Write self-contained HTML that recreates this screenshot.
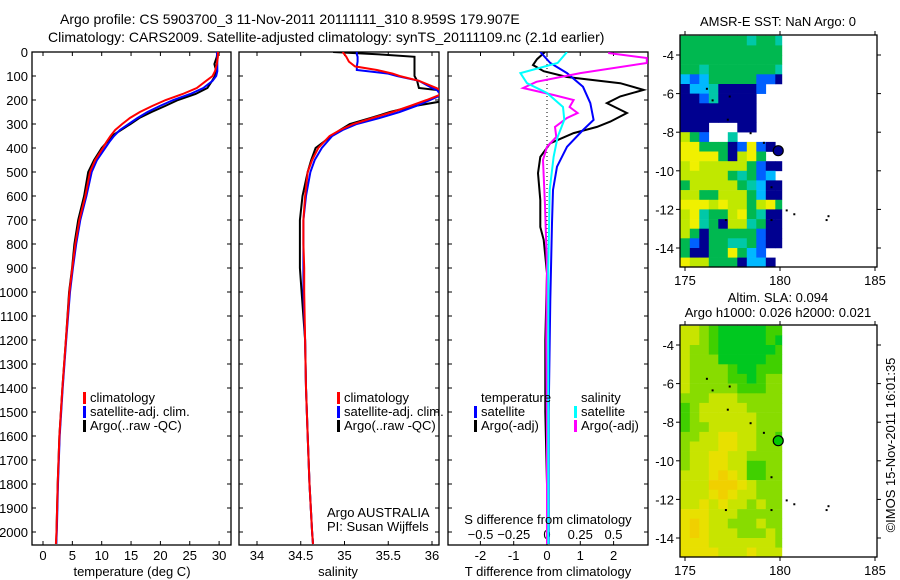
<!DOCTYPE html>
<html><head><meta charset="utf-8"><style>
body{margin:0;background:#fff;}
svg{display:block;font-family:"Liberation Sans",sans-serif;}
text{font-size:13px;fill:#000;}
</style></head><body>
<svg id="s" width="900" height="580" viewBox="0 0 900 580" xmlns="http://www.w3.org/2000/svg">
<defs>
<clipPath id="c1"><rect x="32" y="52" width="199" height="493"/></clipPath>
<clipPath id="c2"><rect x="239" y="52" width="200" height="493"/></clipPath>
<clipPath id="c3"><rect x="448" y="52" width="200" height="493"/></clipPath>
</defs>
<text x="60" y="24" style="font-size:14px">Argo profile: CS 5903700_3 11-Nov-2011 20111111_310 8.959S 179.907E</text>
<text x="48" y="42" style="font-size:14px">Climatology: CARS2009. Satellite-adjusted climatology: synTS_20111109.nc (2.1d earlier)</text>
<g id="g"></g>
</svg>
<script>
const depthT=[0,20,50,80,100,120,150,175,200,225,250,275,300,325,350,375,400,450,500,600,700,800,900,1000,1200,1400,1600,1800,2000,2050];
const tClim=[29.8,29.8,29.6,29.3,28.9,27.8,26.2,23.8,20.9,18.6,16.5,14.8,13.5,12.3,11.5,10.8,10.2,8.9,8.0,7.2,6.2,5.5,5.0,4.5,3.9,3.3,2.8,2.5,2.3,2.2];
const tSat=[29.6,29.7,29.7,29.7,29.5,28.9,27.3,25.1,22.2,19.9,17.8,16.1,14.6,13.1,12.1,11.3,10.6,9.2,8.3,7.4,6.35,5.65,5.1,4.6,3.95,3.35,2.85,2.55,2.35,2.25];
const tArgo=[29.7,29.6,29.2,29.5,29.3,28.8,28.0,26.0,23.0,20.8,18.5,16.4,14.9,13.3,11.7,10.9,10.0,8.7,7.7,7.0,6.0,5.35,4.95,4.45,3.9,3.3,2.8,2.5,2.3,2.25];
const depthS=[0,10,20,40,60,75,90,100,120,150,160,180,200,225,250,275,300,325,350,400,450,500,600,700,800,900,1000,1200,1400,1600,1800,2000,2050];
const sClim=[34.98,35.0,35.02,35.05,35.12,35.37,35.55,35.63,35.85,36.05,36.1,36.08,35.94,35.75,35.55,35.32,35.1,34.95,34.83,34.7,34.63,34.58,34.55,34.53,34.53,34.54,34.54,34.55,34.56,34.58,34.6,34.63,34.64];
const sSat=[35.14,35.14,35.15,35.15,35.14,35.14,35.5,35.6,35.85,36.0,36.06,36.1,35.98,35.82,35.63,35.4,35.14,34.98,34.86,34.74,34.66,34.61,34.56,34.53,34.53,34.53,34.53,34.55,34.56,34.58,34.6,34.63,34.64];
const sArgo=[34.87,35.4,35.8,35.8,35.8,35.8,35.8,35.8,35.83,35.85,36.1,36.15,36.2,35.8,35.52,35.3,35.06,34.95,34.85,34.67,34.62,34.58,34.52,34.49,34.49,34.49,34.51,34.55,34.56,34.58,34.6,34.63,34.64];
const dTSatD=[0,46,88,145,213,283,325,395,478,575,713,1033,1500,2050];
const tSatDiff=[-0.2,0.1,0.6,1.08,1.3,1.4,1.08,0.6,0.3,0.18,0.15,0.1,0.05,0.05];
const dTArgoD=[0,30,54,80,104,130,158,185,213,254,290,312,338,380,437,505,617,729,783,922,1200,1500,1800,2050];
const tArgoDiff=[-0.06,-0.3,-0.42,-0.1,0.6,2.2,2.9,2.2,1.8,2.4,1.9,1.5,0.8,0.1,-0.2,-0.27,-0.2,-0.2,-0.1,0,-0.05,-0.05,0,0];
const dSArgoD=[4,25,46,88,124,150,179,200,229,254,275,312,354,395,450,640,900,1200,1600,2050];
const sArgoDiff=[0.46,0.75,0.75,0.25,-0.08,-0.18,0.05,0.2,0.17,0.23,0.15,0.06,0.07,0,-0.03,-0.015,0,-0.005,0,0];
const dSSatD=[0,46,88,130,171,229,283,354,437,575,900,1500,2050];
const sSatDiff=[0.15,0.08,-0.2,-0.15,0,0.12,0.13,0.08,0.05,0.02,0.01,0.01,0.01];
const depthTicks=[0,100,200,300,400,500,600,700,800,900,1000,1100,1200,1300,1400,1500,1600,1700,1800,1900,2000];
const tempTicks=[0,5,10,15,20,25,30];
const salTicks=[34,34.5,35,35.5,36];
const tdTicks=[-2,-1,0,1,2];
const sdTicks=[-0.5,-0.25,0,0.25,0.5];
const latTicks=[-4,-6,-8,-10,-12,-14];
const lonTicks=[175,180,185];
const sstGrid=["gggggggtggt","ggggggggggg","ggggggggggg","ggtgggggggt","cbcgggggbbn","ncctnnnnbww","nnbtnnnnwww","nnnnnnnnwww","nnnnnnnnwww","nnnwwwnnwww","ygbwwtwwwww","YYgggnbYbnw","YYYYgnyYgww","yYyyyyygbnn","yyyyygtgbcw","gyyyyygtcnn","yyggyyygcnn","YYYyYyygyYg","yYtggyYgtnn","yYtgnyytgnn","ygngggggbnn","gbnggttgbnn","gnnggYgcbww","Yyygggnccnw"];
const slaGrid=["yylgGGGGGgg","yylgGGGGGgG","yllgGGGGGGg","ylllGGGGGgg","yllllgGGggg","yllllggGgll","ylllllgggll","lllyyyllllll","glyyyyylllll","glyyyyyylll","gllyyyyylll","llyyYYyyllg","lyyyYYyylll","lyyYYyyllll","lyyYYyyggll","yyyYoYyggll","yyyoooYylll","yyyYoYyylll","yyYyYyylyll","YYYyyylllll","YoYyylllyll","YoYyyylllyl","YYYyyyyyyyl","YYYYyyyYyyy"];
const argoLon=179.907, argoLat=-8.959;

const NS="http://www.w3.org/2000/svg", G=document.getElementById('g');
function el(tag,attrs,parent,txt){const e=document.createElementNS(NS,tag);for(const k in attrs)e.setAttribute(k,attrs[k]);if(txt!==undefined)e.textContent=txt;(parent||G).appendChild(e);return e;}
const yD=d=>52+0.24*d;
const xT1=t=>43+5.87*t;
const xS2=s=>257+87.5*(s-34);
const xT3=t=>547+33.3*t;
const xS3=s=>547+133*s;
function series(depths,vals,fx,color,clip,name){
  const pts=depths.map((d,i)=>fx(vals[i]).toFixed(1)+','+yD(d).toFixed(1)).join(' ');
  const p=el('polyline',{points:pts,fill:'none',stroke:color,'stroke-width':2,'clip-path':'url(#'+clip+')'});
  
  
}
function frame(x0,x1,name){
  const r=el('rect',{x:x0,y:52,width:x1-x0,height:493,fill:'none',stroke:'#000','stroke-width':1.3});
  
  
  depthTicks.forEach(d=>{el('line',{x1:x0,x2:x0+4,y1:yD(d),y2:yD(d),stroke:'#000'});el('line',{x1:x1,x2:x1-4,y1:yD(d),y2:yD(d),stroke:'#000'});});
}
// panel 1
frame(32,231,'temperature-panel');
depthTicks.forEach(d=>{const t=el('text',{x:28,y:yD(d)+5,'text-anchor':'end'},G,String(d));
  
  });
tempTicks.forEach(v=>{el('line',{x1:xT1(v),x2:xT1(v),y1:545,y2:541,stroke:'#000'});el('line',{x1:xT1(v),x2:xT1(v),y1:52,y2:56,stroke:'#000'});
  const t=el('text',{x:xT1(v),y:560,'text-anchor':'middle'},G,String(v));
  
  });
el('text',{x:132,y:576,'text-anchor':'middle',},G,'temperature (deg C)');
series(depthT,tArgo,xT1,'#000','c1','temperature-argo-line');
series(depthT,tSat,xT1,'#0000ff','c1','temperature-satellite-line');
series(depthT,tClim,xT1,'#ff0000','c1','temperature-climatology-line');
// panel 2
frame(239,439,'salinity-panel');
salTicks.forEach(v=>{el('line',{x1:xS2(v),x2:xS2(v),y1:545,y2:541,stroke:'#000'});el('line',{x1:xS2(v),x2:xS2(v),y1:52,y2:56,stroke:'#000'});
  const t=el('text',{x:xS2(v),y:560,'text-anchor':'middle'},G,String(v));
  
  });
el('text',{x:338,y:576,'text-anchor':'middle',},G,'salinity');
series(depthS,sArgo,xS2,'#000','c2','salinity-argo-line');
series(depthS,sSat,xS2,'#0000ff','c2','salinity-satellite-line');
series(depthS,sClim,xS2,'#ff0000','c2','salinity-climatology-line');
// legends
function legend(x,y,items,pfx){items.forEach((it,i)=>{el('rect',{x:x,y:y+i*14-10,width:3,height:12,fill:it[1]});
  const t=el('text',{x:x+7,y:y+i*14},G,it[0]);
  
  });}
legend(83,402,[['climatology','#ff0000'],['satellite-adj. clim.','#0000ff'],['Argo(..raw -QC)','#000']],'temperature');
legend(337,402,[['climatology','#ff0000'],['satellite-adj. clim.','#0000ff'],['Argo(..raw -QC)','#000']],'salinity');
el('text',{x:327,y:517,},G,'Argo AUSTRALIA');
el('text',{x:327,y:531,},G,'PI: Susan Wijffels');
// panel 3
frame(448,648,'difference-panel');
el('line',{x1:547,x2:547,y1:52,y2:300,stroke:'#000','stroke-dasharray':'1,3'});
tdTicks.forEach(v=>{el('line',{x1:xT3(v),x2:xT3(v),y1:545,y2:541,stroke:'#000'});
  const t=el('text',{x:xT3(v),y:560,'text-anchor':'middle'},G,String(v));
  
  });
sdTicks.forEach(v=>{el('line',{x1:xS3(v),x2:xS3(v),y1:52,y2:56,stroke:'#000'});
  const t=el('text',{x:xS3(v),y:539,'text-anchor':'middle'},G,String(v).replace('-','\u2212'));
  
  });
series(dTArgoD,tArgoDiff,xT3,'#000','c3','temperature-argo-difference-line');
series(dTSatD,tSatDiff,xT3,'#0000ff','c3','temperature-satellite-difference-line');
series(dSArgoD,sArgoDiff,xS3,'#ff00ff','c3','salinity-argo-difference-line');
series(dSSatD,sSatDiff,xS3,'#00ffff','c3','salinity-satellite-difference-line');
el('text',{x:481,y:402,},G,'temperature');
el('text',{x:581,y:402,},G,'salinity');
legend(474,416,[['satellite','#0000ff'],['Argo(-adj)','#000']],'temperature-difference');
legend(574,416,[['satellite','#00ffff'],['Argo(-adj)','#ff00ff']],'salinity-difference');
el('text',{x:548,y:524,'text-anchor':'middle',},G,'S difference from climatology');
el('text',{x:548,y:576,'text-anchor':'middle',},G,'T difference from climatology');
// maps
const sstCol={g:'#00b850',t:'#00c8a8',c:'#00b8ff',b:'#0060ff',n:'#000090',y:'#c0e800',Y:'#f0f000'};
const slaCol={G:'#00c820',g:'#40d000',l:'#88dc00',y:'#c8e400',Y:'#e8e000',o:'#f0d000'};
function map(top,grid,cols,name,dotFill){
  const lonX=l=>685+19*(l-175), latY=a=>top+20+19.3*(-4-a);
  const mg=el('g',{});
  
  
  grid.forEach((row,j)=>{for(let i=0;i<11;i++){const c=row[i];if(!c||c==='w')continue;
    const x0=lonX(174.75+0.5*i), x1=Math.min(lonX(175.25+0.5*i),lonX(180.1));
    el('rect',{x:x0.toFixed(1),y:latY(-3-0.5*j).toFixed(1),width:(x1-x0+0.3).toFixed(1),height:9.95,fill:cols[c]},mg);}});
  el('rect',{x:680,y:top,width:197,height:232,fill:'none',stroke:'#000','stroke-width':1.3},mg);
  latTicks.forEach(a=>{el('line',{x1:676,x2:680,y1:latY(a),y2:latY(a),stroke:'#000'},mg);el('line',{x1:877,x2:881,y1:latY(a),y2:latY(a),stroke:'#000'},mg);
    const t=el('text',{x:674,y:latY(a)+5,'text-anchor':'end'},mg,String(a));
    
    });
  lonTicks.forEach(l=>{el('line',{x1:lonX(l),x2:lonX(l),y1:top,y2:top-4,stroke:'#000'},mg);el('line',{x1:lonX(l),x2:lonX(l),y1:top+232,y2:top+236,stroke:'#000'},mg);
    const t=el('text',{x:lonX(l),y:top+250,'text-anchor':'middle'},mg,String(l));
    
    });
  [[176.1,-5.7],[177.3,-6.1],[176.4,-6.3],[177.2,-7.3],[178.4,-8.0],[179.1,-8.5],[179.5,-10.8],[180.3,-12.0],[180.7,-12.2],[182.5,-12.3],[182.4,-12.5],[177.1,-12.5],[179.5,-12.5]].forEach(p=>
    el('rect',{x:lonX(p[0]),y:latY(p[1]),width:2,height:2,fill:'#000'},mg));
  const m=el('circle',{cx:lonX(argoLon),cy:latY(argoLat),r:5,fill:dotFill,stroke:'#000','stroke-width':1.2},mg);
  
  
}
map(35,sstGrid,sstCol,'sst-map','#000090');
el('text',{x:778,y:26,'text-anchor':'middle',},G,'AMSR-E SST: NaN Argo: 0');
map(325,slaGrid,slaCol,'sla-map','#00c800');
el('text',{x:778,y:302,'text-anchor':'middle',},G,'Altim. SLA: 0.094');
el('text',{x:778,y:317,'text-anchor':'middle',},G,'Argo h1000: 0.026 h2000: 0.021');
el('text',{x:0,y:0,transform:'translate(895,445) rotate(-90)','text-anchor':'middle',},G,'©IMOS 15-Nov-2011 16:01:35');
</script>
</body></html>
